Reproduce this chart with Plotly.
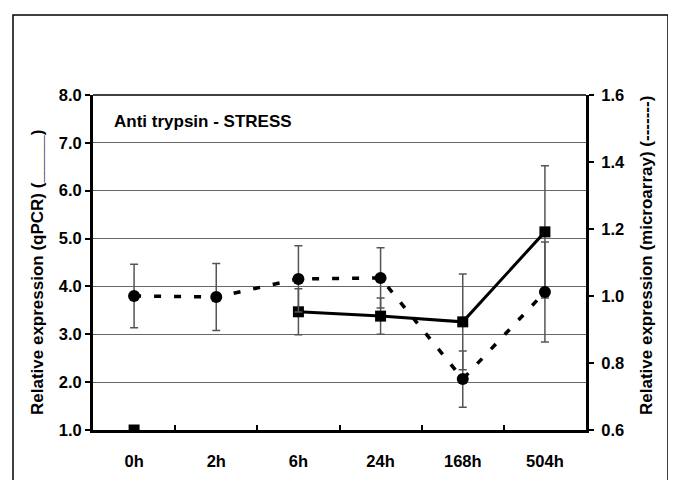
import plotly.graph_objects as go

categories = ["0h", "2h", "6h", "24h", "168h", "504h"]
qpcr_values = [1.0, None, 3.47, 3.38, 3.26, 5.14]
qpcr_errors = [0.0, None, 0.48, 0.38, 1.0, 1.38]
micro_values = [1.0, 0.997, 1.051, 1.054, 0.752, 1.012]
micro_errors = [0.095, 0.10, 0.099, 0.09, 0.084, 0.149]
left_ticks = [1, 2, 3, 4, 5, 6, 7, 8]
left_labels = ["1.0", "2.0", "3.0", "4.0", "5.0", "6.0", "7.0", "8.0"]
right_ticks = [0.6, 0.8, 1.0, 1.2, 1.4, 1.6]
right_labels = ["0.6", "0.8", "1.0", "1.2", "1.4", "1.6"]

FONT = "Liberation Sans, Arial, sans-serif"
tickfont = dict(family=FONT, size=16.5, color="black", weight=700)

fig = go.Figure()

fig.add_trace(go.Scatter(
    x=categories, y=micro_values, yaxis="y2", mode="lines+markers",
    line=dict(color="black", width=3.5, dash="7px,13px"),
    marker=dict(symbol="circle", size=12, color="black"),
    error_y=dict(type="data", array=micro_errors, visible=True,
                 color="#555555", thickness=1.5, width=4),
    showlegend=False,
))

fig.add_trace(go.Scatter(
    x=categories, y=qpcr_values, yaxis="y", mode="lines+markers",
    line=dict(color="black", width=3),
    marker=dict(symbol="square", size=11, color="black"),
    connectgaps=False,
    error_y=dict(type="data", array=qpcr_errors, visible=True,
                 color="#555555", thickness=1.5, width=4),
    showlegend=False,
))

fig.update_layout(
    width=676, height=480,
    margin=dict(l=85, r=98, t=87, b=58),
    paper_bgcolor="white", plot_bgcolor="white",
    xaxis=dict(
        type="category", range=[-0.5, 5.5],
        showline=True, linecolor="black", linewidth=3,
        ticks="inside", tickson="boundaries", ticklen=5, tickwidth=2, tickcolor="black",
        showgrid=False, tickfont=tickfont, zeroline=False, ticklabelstandoff=14,
    ),
    yaxis=dict(
        range=[1, 8], tickvals=left_ticks, ticktext=left_labels,
        showline=True, linecolor="black", linewidth=3,
        ticks="outside", ticklen=5, tickwidth=2, tickcolor="black",
        showgrid=True, gridcolor="#666666", gridwidth=1.2,
        tickfont=tickfont, zeroline=False,
    ),
    yaxis2=dict(
        range=[0.6, 1.6], tickvals=right_ticks, ticktext=right_labels,
        overlaying="y", side="right",
        showline=True, linecolor="black", linewidth=3,
        ticks="outside", ticklen=5, tickwidth=2, tickcolor="black",
        showgrid=False, tickfont=tickfont, zeroline=False, ticklabelstandoff=4,
    ),
)

# top border line of plot area and outer frame
fig.add_shape(type="line", xref="paper", yref="paper", x0=0, x1=1, y0=1, y1=1,
              line=dict(color="black", width=1.5))
fig.add_shape(type="rect", xref="paper", yref="paper",
              x0=(13 - 93) / 493, x1=(668 - 93) / 493,
              y0=(430 - 495) / 335, y1=(430 - 15) / 335,
              line=dict(color="black", width=1.5), layer="below")

fig.add_annotation(text="Anti trypsin - STRESS", xref="paper", yref="paper",
                   x=(112 - 93) / 493, y=(430 - 121) / 335, xanchor="left", yanchor="middle",
                   showarrow=False, font=dict(family=FONT, size=17, color="black", weight=700))

fig.add_annotation(text="Relative expression (qPCR) (_____)", xref="paper", yref="paper",
                   x=(37 - 93) / 493, y=(430 - 273) / 335, xanchor="center", yanchor="middle",
                   textangle=-90, showarrow=False,
                   font=dict(family=FONT, size=17, color="black", weight=700))

fig.add_annotation(text="Relative expression (microarray) (-------)", xref="paper", yref="paper",
                   x=(646 - 93) / 493, y=(430 - 256) / 335, xanchor="center", yanchor="middle",
                   textangle=-90, showarrow=False,
                   font=dict(family=FONT, size=17, color="black", weight=700))

fig.write_html("out.html")
